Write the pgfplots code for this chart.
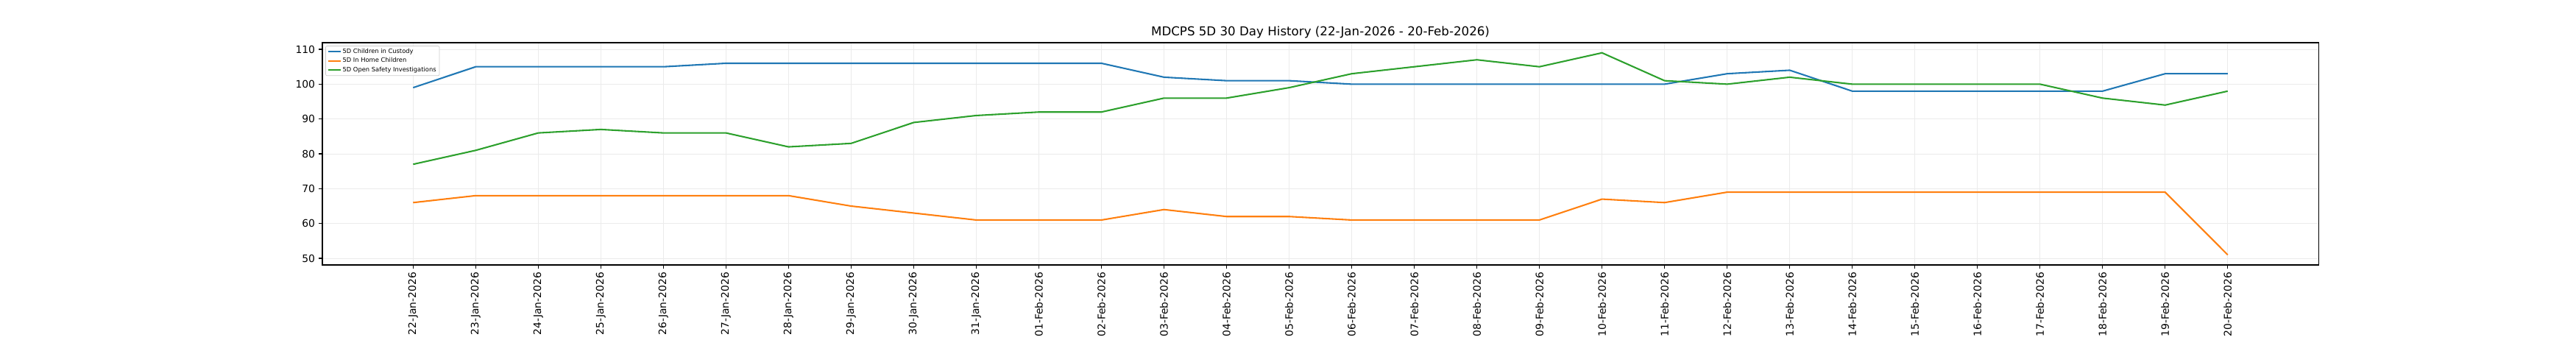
\documentclass[border=0pt]{standalone}
\usepackage{fontspec}
\setmainfont{DejaVu Sans}
\usepackage{pgfplots}
\pgfplotsset{compat=1.18}
\definecolor{tabblue}{HTML}{1F77B4}
\definecolor{taborange}{HTML}{FF7F0E}
\definecolor{tabgreen}{HTML}{2CA02C}
\definecolor{gridgray}{HTML}{EBEBEB}
\begin{document}
\begin{tikzpicture}
\useasboundingbox (-315.4pt,-86.4pt) rectangle (2204.6pt,259.2pt);
\begin{axis}[
  at={(0pt,0pt)}, anchor=south west,
  scale only axis,
  width=1952.6pt, height=217.4pt,
  xmin=-1.45, xmax=30.45,
  ymin=48.1, ymax=111.9,
  xtick={0,...,29},
  xticklabels={22-Jan-2026,23-Jan-2026,24-Jan-2026,25-Jan-2026,26-Jan-2026,27-Jan-2026,28-Jan-2026,29-Jan-2026,30-Jan-2026,31-Jan-2026,01-Feb-2026,02-Feb-2026,03-Feb-2026,04-Feb-2026,05-Feb-2026,06-Feb-2026,07-Feb-2026,08-Feb-2026,09-Feb-2026,10-Feb-2026,11-Feb-2026,12-Feb-2026,13-Feb-2026,14-Feb-2026,15-Feb-2026,16-Feb-2026,17-Feb-2026,18-Feb-2026,19-Feb-2026,20-Feb-2026},
  ytick={50,60,...,110},
  tick align=outside,
  major tick length=3.5pt,
  tick style={black, line width=0.8pt},
  xtick pos=bottom, ytick pos=left,
  axis line style={black, line width=0.8pt},
  grid=major,
  major grid style={gridgray, line width=0.6pt},
  /pgf/number format/assume math mode=true,
  ticklabel style={font=\fontsize{10}{12}\selectfont},
  xticklabel style={rotate=90, anchor=east, inner sep=0pt, xshift=-3.5pt},
  yticklabel style={inner sep=0pt, xshift=-3.5pt},
  title={MDCPS 5D 30 Day History (22-Jan-2026 - 20-Feb-2026)},
  title style={at={(rel axis cs:0.5,1)}, font=\fontsize{12}{14}\selectfont, inner sep=0pt, yshift=-1.7pt, anchor=south},
  legend style={at={(rel axis cs:0,1)}, anchor=north west, xshift=2.9pt, yshift=-2.9pt,
    font=\fontsize{6}{7}\selectfont, draw={rgb,255:red,204;green,204;blue,204}, line width=0.5pt,
    rounded corners=1.5pt, fill=white, fill opacity=0.8, text opacity=1,
    inner xsep=2pt, inner ysep=1.5pt, row sep=0.6pt,
    nodes={inner sep=1.2pt, text height=4.6pt, text depth=1.3pt}},
  legend cell align=left,
  legend image code/.code={\draw[#1] (0pt,0pt) -- (12pt,0pt);},
]
\addplot[tabblue, line width=1.5pt] coordinates {
(0,99)(1,105)(2,105)(3,105)(4,105)(5,106)(6,106)(7,106)(8,106)(9,106)
(10,106)(11,106)(12,102)(13,101)(14,101)(15,100)(16,100)(17,100)(18,100)(19,100)
(20,100)(21,103)(22,104)(23,98)(24,98)(25,98)(26,98)(27,98)(28,103)(29,103)};
\addlegendentry{5D Children in Custody}
\addplot[taborange, line width=1.5pt] coordinates {
(0,66)(1,68)(2,68)(3,68)(4,68)(5,68)(6,68)(7,65)(8,63)(9,61)
(10,61)(11,61)(12,64)(13,62)(14,62)(15,61)(16,61)(17,61)(18,61)(19,67)
(20,66)(21,69)(22,69)(23,69)(24,69)(25,69)(26,69)(27,69)(28,69)(29,51)};
\addlegendentry{5D In Home Children}
\addplot[tabgreen, line width=1.5pt] coordinates {
(0,77)(1,81)(2,86)(3,87)(4,86)(5,86)(6,82)(7,83)(8,89)(9,91)
(10,92)(11,92)(12,96)(13,96)(14,99)(15,103)(16,105)(17,107)(18,105)(19,109)
(20,101)(21,100)(22,102)(23,100)(24,100)(25,100)(26,100)(27,96)(28,94)(29,98)};
\addlegendentry{5D Open Safety Investigations}
\end{axis}
\end{tikzpicture}
\end{document}
